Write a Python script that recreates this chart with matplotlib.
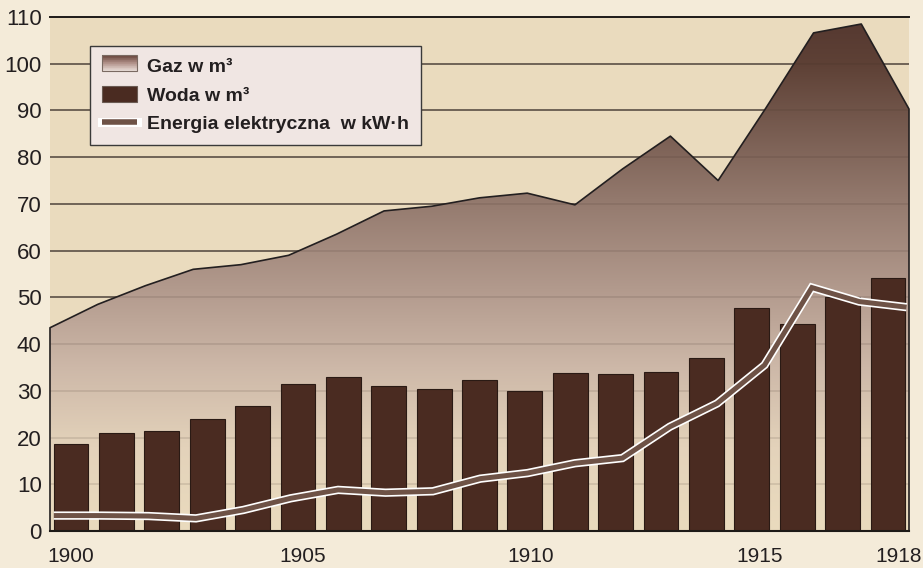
import numpy as np
import matplotlib
matplotlib.use("Agg")
import matplotlib.pyplot as plt
from matplotlib.patches import Polygon, Rectangle
from matplotlib.colors import LinearSegmentedColormap
from matplotlib.legend_handler import HandlerBase
from matplotlib.lines import Line2D
import matplotlib.patheffects as pe

# ---------------- data ----------------
years = list(range(1900, 1919))
gas = [43.5, 48.5, 52.5, 56.0, 57.0, 59.0, 63.5, 68.5, 69.5, 71.3, 72.3,
       69.8, 77.5, 84.5, 75.0, 90.5, 106.6, 108.5, 90.3]
water = [18.6, 21.0, 21.4, 24.0, 26.7, 31.5, 33.0, 31.0, 30.4, 32.3, 30.0,
         33.8, 33.5, 34.1, 37.0, 47.7, 44.2, 50.1, 54.1]
electricity = [3.3, 3.3, 3.2, 2.7, 4.5, 7.0, 8.8, 8.2, 8.5, 11.2, 12.4,
               14.5, 15.6, 22.3, 27.3, 35.5, 52.1, 49.1, 47.9]
xtick_labels = ["1900", "1905", "1910", "1915", "1918"]
ytick_values = list(range(0, 111, 10))
legend_labels = ["Gaz w m³", "Woda w m³", "Energia elektryczna  w kW·h"]

# ---------------- style ----------------
OUT_BG = "#F4EBD9"
PLOT_BG = "#EADBBE"
BAR_C = "#4A2B21"
LINE_C = "#6E5246"
TXT = "#231F20"

plt.rcParams["font.family"] = ["Liberation Sans", "DejaVu Sans"]

W, H = 923, 568
fig = plt.figure(figsize=(W / 100, H / 100), dpi=100, facecolor=OUT_BG)
L, R, T, B = 50, 909, 17, 531
ax = fig.add_axes([L / W, (H - B) / H, (R - L) / W, (B - T) / H])
ax.set_facecolor(PLOT_BG)
ax.set_xlim(0, 18)
ax.set_ylim(0, 110)

n = len(years)
x_gas = np.arange(n, dtype=float)               # gas positions
x_bar = np.linspace(0.44, 17.56, n)             # bar centres
x_line = np.linspace(0.08, 17.95, n)            # line positions

# gridlines (under gas)
for v in ytick_values[1:-1]:
    ax.axhline(v, color="#6E6458", lw=1.3, zorder=1)
ax.axhline(110, color="#1E1A18", lw=1.4, zorder=6, clip_on=False)

# gas gradient area
gcmap = LinearSegmentedColormap.from_list(
    "gas",
    [(0.0, "#EADBBE"), (18 / 110, "#E3D2BA"), (35 / 110, "#CDB8A8"),
     (50 / 110, "#B59D90"), (70 / 110, "#957B6F"), (100 / 110, "#5E4136"),
     (1.0, "#553830")])
grad = np.linspace(0, 1, 256).reshape(-1, 1)
im = ax.imshow(grad, cmap=gcmap, origin="lower", extent=[0, 18, 0, 110],
               aspect="auto", zorder=2, interpolation="bilinear")
poly_pts = [(0, 0)] + list(zip(x_gas, gas)) + [(18, 0)]
poly = Polygon(poly_pts, closed=True, facecolor="none", edgecolor="none",
               transform=ax.transData)
ax.add_patch(poly)
im.set_clip_path(poly)
ax.plot(np.r_[x_gas[0], x_gas, x_gas[-1]], np.r_[0, gas, 0],
        color="#231F20", lw=1.2, zorder=3, clip_on=False)

# gridlines over gas (subtle)
for v in ytick_values[1:-1]:
    ax.axhline(v, color="#3A2A22", lw=1.3, alpha=0.13, zorder=3)

# bars
ax.bar(x_bar, water, width=0.73, color=BAR_C, edgecolor="#2A1A14",
       linewidth=0.8, zorder=4)

# electricity line
ax.plot(x_line, electricity, color=LINE_C, lw=3.6, zorder=5,
        solid_joinstyle="miter", solid_capstyle="butt",
        path_effects=[pe.Stroke(linewidth=6.0, foreground="white"),
                      pe.Normal()])

# axes cosmetics
for s in ["top", "left", "right"]:
    ax.spines[s].set_visible(False)
ax.spines["bottom"].set_color("#1E1A18")
ax.spines["bottom"].set_linewidth(1.5)
ax.spines["bottom"].set_zorder(6)

ax.set_yticks(ytick_values)
ax.set_yticklabels([str(v) for v in ytick_values])
ax.tick_params(axis="y", length=0, pad=6, labelsize=16, labelcolor=TXT)
ax.set_xticks([0.44, 5.29, 10.07, 14.87, 17.79])
ax.set_xticklabels(xtick_labels)
ax.tick_params(axis="x", length=0, pad=11.5, labelsize=15, labelcolor=TXT)


# legend
class GradHandler(HandlerBase):
    def create_artists(self, legend, orig, xd, yd, width, height, fontsize, trans):
        arts = []
        k = 24
        cm = LinearSegmentedColormap.from_list("lg", ["#E8DCD6", "#B09088", "#654238"])
        for i in range(k):
            r = Rectangle((xd, yd + height * i / k), width, height / k * 1.05,
                          facecolor=cm(i / (k - 1)), edgecolor="none", transform=trans)
            arts.append(r)
        arts.append(Rectangle((xd, yd), width, height, facecolor="none",
                              edgecolor="#7A6A62", lw=0.8, transform=trans))
        return arts


gas_handle = Rectangle((0, 0), 1, 1)
water_handle = Rectangle((0, 0), 1, 1, facecolor=BAR_C, edgecolor="#6A5A52", lw=0.8)
line_handle = Line2D([], [], color=LINE_C, lw=4.0, solid_capstyle="butt",
                     path_effects=[pe.Stroke(linewidth=6.5, foreground="white",
                                             capstyle="projecting"),
                                   pe.Normal()])
leg = ax.legend([gas_handle, water_handle, line_handle], legend_labels,
                handler_map={gas_handle: GradHandler()},
                loc="upper left", bbox_to_anchor=(40 / 859, (531 - 46) / 514),
                borderaxespad=0, fancybox=False, frameon=True,
                prop={"family": "Liberation Sans", "weight": "bold", "size": 14},
                handlelength=1.8, handleheight=0.9, handletextpad=0.55,
                labelspacing=0.5, borderpad=0.6)
fr = leg.get_frame()
fr.set_facecolor("#F0E6E3")
fr.set_edgecolor("#3A3A3A")
fr.set_linewidth(1.0)
fr.set_alpha(1)
leg.set_zorder(10)
for t in leg.get_texts():
    t.set_color(TXT)

fig.savefig("out.png", dpi=100, facecolor=OUT_BG)
